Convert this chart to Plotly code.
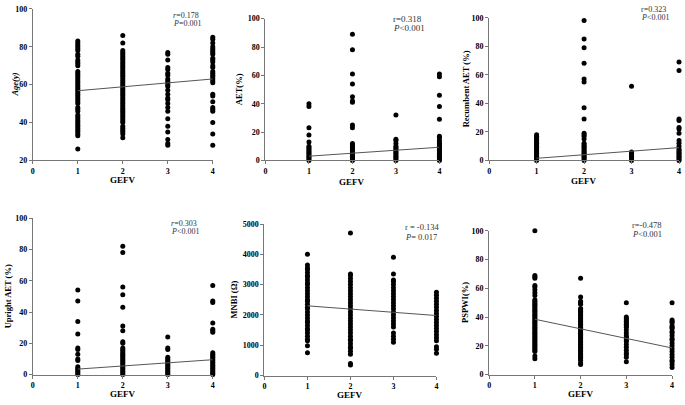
import plotly.graph_objects as go

W, H = 685, 405
groups = [1, 2, 3, 4]

# ---------------- data ----------------
age_g1 = [26, 33, 34, 35, 36, 37, 38, 39, 40, 41, 42, 43, 44, 46, 47, 48, 50, 51, 52, 53, 54, 55, 56, 57, 58, 59, 60, 61, 62, 63, 64, 65, 66, 67, 70, 71, 72, 73, 75, 76, 78, 79, 80, 81, 82, 83]
age_g2 = [32, 34, 35, 36, 37, 38, 40, 41, 42, 43, 44, 45, 46, 47, 48, 49, 50, 51, 52, 53, 54, 55, 56, 57, 58, 59, 60, 61, 62, 63, 64, 65, 66, 67, 68, 69, 70, 71, 72, 73, 74, 75, 76, 77, 78, 82, 86]
age_g3 = [28, 29, 31, 35, 38, 42, 46, 48, 50, 52, 53, 55, 57, 59, 60, 61, 62, 63, 65, 66, 68, 69, 73, 76, 77]
age_g4 = [28, 34, 40, 46, 47, 48, 51, 54, 55, 61, 62, 63, 64, 65, 66, 67, 69, 70, 72, 73, 74, 76, 77, 78, 79, 80, 82, 84, 85]
age_fit = [56.8, 63.0]

aet_g1 = [0, 1, 2, 3, 4, 5, 6, 7, 8, 9, 10, 13, 18, 23, 38, 40]
aet_g2 = [0, 1, 2, 3, 4, 5, 6, 7, 8, 9, 10, 11, 12, 23, 25, 41, 42, 45, 54, 61, 78, 89]
aet_g3 = [0, 1, 2, 3, 4, 5, 6, 7, 8, 9, 10, 12, 14, 15, 32]
aet_g4 = [0, 1, 2, 3, 4, 5, 6, 7, 8, 9, 10, 11, 12, 13, 14, 16, 17, 29, 38, 46, 59, 61]
aet_fit = [3.0, 9.3]

rec_g1 = [0, 1, 2, 3, 4, 5, 6, 7, 8, 9, 10, 11, 12, 13, 14, 15, 16, 17, 18]
rec_g2 = [0, 1, 2, 3, 4, 5, 6, 7, 8, 9, 10, 11, 12, 15, 17, 18, 19, 29, 37, 55, 57, 68, 79, 85, 98]
rec_g3 = [0, 1, 2, 3, 4, 5, 6, 52]
rec_g4 = [0, 1, 2, 3, 4, 5, 6, 7, 8, 10, 12, 14, 19, 22, 23, 28, 29, 63, 69]
rec_fit = [1.5, 9.0]

upr_g1 = [0, 1, 2, 3, 4, 5, 9, 10, 13, 16, 17, 26, 34, 47, 54]
upr_g2 = [0, 1, 2, 3, 4, 5, 6, 7, 8, 9, 10, 11, 12, 13, 14, 15, 16, 17, 20, 21, 28, 31, 43, 51, 56, 78, 82]
upr_g3 = [0, 1, 2, 3, 4, 5, 6, 7, 8, 9, 10, 11, 16, 17, 24]
upr_g4 = [0, 1, 2, 3, 4, 5, 6, 7, 8, 9, 10, 11, 12, 13, 14, 27, 28, 29, 33, 46, 47, 57]
upr_fit = [3.5, 9.5]

mnbi_g1 = [750, 980, 1150, 1200, 1300, 1400, 1500, 1550, 1650, 1750, 1800, 1900, 2000, 2100, 2200, 2250, 2350, 2450, 2500, 2600, 2700, 2800, 2900, 3000, 3050, 3150, 3250, 3300, 3400, 3500, 3550, 3650, 4000]
mnbi_g2 = [350, 400, 700, 800, 900, 950, 1050, 1150, 1200, 1300, 1400, 1500, 1600, 1700, 1800, 1900, 2000, 2100, 2200, 2300, 2400, 2500, 2600, 2700, 2800, 2900, 3000, 3100, 3200, 3300, 3350, 4700]
mnbi_g3 = [1100, 1200, 1300, 1400, 1600, 1700, 1800, 1900, 2000, 2100, 2200, 2300, 2400, 2500, 2600, 2700, 2800, 2900, 3000, 3100, 3150, 3350, 3900]
mnbi_g4 = [740, 870, 950, 1150, 1250, 1350, 1450, 1550, 1650, 1750, 1850, 1950, 2050, 2150, 2250, 2350, 2450, 2550, 2650, 2750]
mnbi_fit = [2300, 1980]

psp_g1 = [11, 13, 16, 17, 18, 19, 20, 21, 22, 23, 24, 25, 26, 27, 28, 29, 30, 31, 32, 33, 34, 35, 36, 37, 38, 39, 40, 41, 42, 43, 44, 45, 46, 47, 48, 49, 50, 51, 52, 55, 57, 59, 61, 62, 67, 68, 69, 100]
psp_g2 = [7, 8, 10, 11, 12, 13, 14, 15, 16, 17, 18, 19, 20, 21, 22, 23, 24, 25, 26, 27, 28, 29, 30, 31, 32, 33, 34, 35, 36, 37, 38, 39, 40, 41, 42, 43, 44, 45, 46, 49, 50, 51, 54, 67]
psp_g3 = [9, 12, 14, 15, 17, 19, 21, 23, 24, 26, 27, 29, 31, 33, 34, 35, 36, 37, 38, 39, 40, 50]
psp_g4 = [5, 7, 9, 10, 12, 14, 16, 18, 20, 22, 24, 25, 27, 29, 30, 32, 33, 34, 36, 37, 38, 50]
psp_fit = [38.5, 18.5]

x_ticks = [0, 1, 2, 3, 4]
y_titles = ["Age(y)", "AET(%)", "Recumbent AET (%)", "Upright AET (%)", "MNBI (Ω)", "PSPWI(%)"]
y_ranges = [[20, 100], [0, 100], [0, 100], [0, 100], [0, 5000], [0, 100]]
y_dtick = [20, 20, 20, 20, 1000, 20]
r_text = ["<i>r</i>=0.178", "r=0.318", "r=0.323", "<i>r</i>=0.303", "r = -0.134", "r=-0.478"]
p_text = ["<i>P</i>=0.001", "<i>P</i><0.001", "<i>P</i><0.001", "<i>P</i><0.001", "<i>P</i>= 0.017", "<i>P</i><0.001"]

panels = [
    [age_g1, age_g2, age_g3, age_g4, age_fit],
    [aet_g1, aet_g2, aet_g3, aet_g4, aet_fit],
    [rec_g1, rec_g2, rec_g3, rec_g4, rec_fit],
    [upr_g1, upr_g2, upr_g3, upr_g4, upr_fit],
    [mnbi_g1, mnbi_g2, mnbi_g3, mnbi_g4, mnbi_fit],
    [psp_g1, psp_g2, psp_g3, psp_g4, psp_fit],
]

# ---------------- layout (pixel boxes) ----------------
# (x_left, x_right, y_top, y_bottom) in px
boxes = [
    (31, 212, 5, 160),
    (265, 440, 15, 160),
    (490, 681, 14, 160),
    (31, 212, 219, 379),
    (264, 437, 225, 380),
    (490, 674, 232, 379),
]
ytitle_x = [13, 238, 467, 6, 233, 465]
xtitle_y = [180, 182, 181, 399, 400, 399]
ann_pos = [(170, 12, 20), (391, 15, 25), (641, 6, 14), (168, 224, 233), (403, 228, 238), (632, 226, 235)]
ann_size = [8, 9, 8, 8, 8.5, 8.5]

FONT = "Liberation Serif"

def px(x):
    return x / W

def py(y):
    return 1 - y / H

fig = go.Figure()
annotations = []
for i, (pan, box) in enumerate(zip(panels, boxes)):
    n = i + 1
    xa = "x" if n == 1 else f"x{n}"
    ya = "y" if n == 1 else f"y{n}"
    xs, ys = [], []
    for g, vals in zip(groups, pan[:4]):
        xs += [g] * len(vals)
        ys += vals
    fig.add_trace(go.Scatter(x=xs, y=ys, mode="markers", xaxis=xa, yaxis=ya,
                             marker=dict(color="black", size=5), cliponaxis=False,
                             showlegend=False, hoverinfo="skip"))
    fig.add_trace(go.Scatter(x=[1, 4], y=pan[4], mode="lines", xaxis=xa, yaxis=ya,
                             line=dict(color="#555", width=1), cliponaxis=False,
                             showlegend=False, hoverinfo="skip"))
    xl, xr, yt, yb = box
    axis_common = dict(showline=True, linecolor="#777", linewidth=1, ticks="outside",
                       ticklen=3, tickcolor="#777", showgrid=False, zeroline=False,
                       tickfont=dict(family=FONT, size=8, color="black", weight="bold"))
    fig.layout[f"xaxis{'' if n == 1 else n}"] = dict(
        domain=[px(xl), px(xr)], anchor=ya, range=[0, 4], tickvals=x_ticks, **axis_common)
    fig.layout[f"yaxis{'' if n == 1 else n}"] = dict(
        domain=[py(yb), py(yt)], anchor=xa, range=y_ranges[i], dtick=y_dtick[i], **axis_common)
    # axis titles
    annotations.append(dict(x=px(ytitle_x[i]), y=py((yt + yb) / 2), xref="paper", yref="paper",
                            text=y_titles[i], textangle=-90, showarrow=False,
                            xanchor="center", yanchor="middle",
                            font=dict(family=FONT, size=8.5, color="black", weight="bold",
                                      style="italic" if i == 0 else "normal")))
    annotations.append(dict(x=px((xl + xr) / 2), y=py(xtitle_y[i]), xref="paper", yref="paper",
                            text="GEFV", showarrow=False, xanchor="center", yanchor="middle",
                            font=dict(family=FONT, size=9, color="black", weight="bold")))
    ax, ry, pyy = ann_pos[i]
    for txt, yy in ((r_text[i], ry), (p_text[i], pyy)):
        annotations.append(dict(x=px(ax), y=py(yy), xref="paper", yref="paper", text=txt,
                                showarrow=False, xanchor="left", yanchor="middle",
                                font=dict(family=FONT, size=ann_size[i], color="#333")))

fig.update_layout(width=W, height=H, margin=dict(l=0, r=0, t=0, b=0),
                  paper_bgcolor="white", plot_bgcolor="white", annotations=annotations)
fig.write_html("out.html", config={"displayModeBar": False},
               post_script="document.body.style.margin='0';document.body.style.overflow='hidden';")
